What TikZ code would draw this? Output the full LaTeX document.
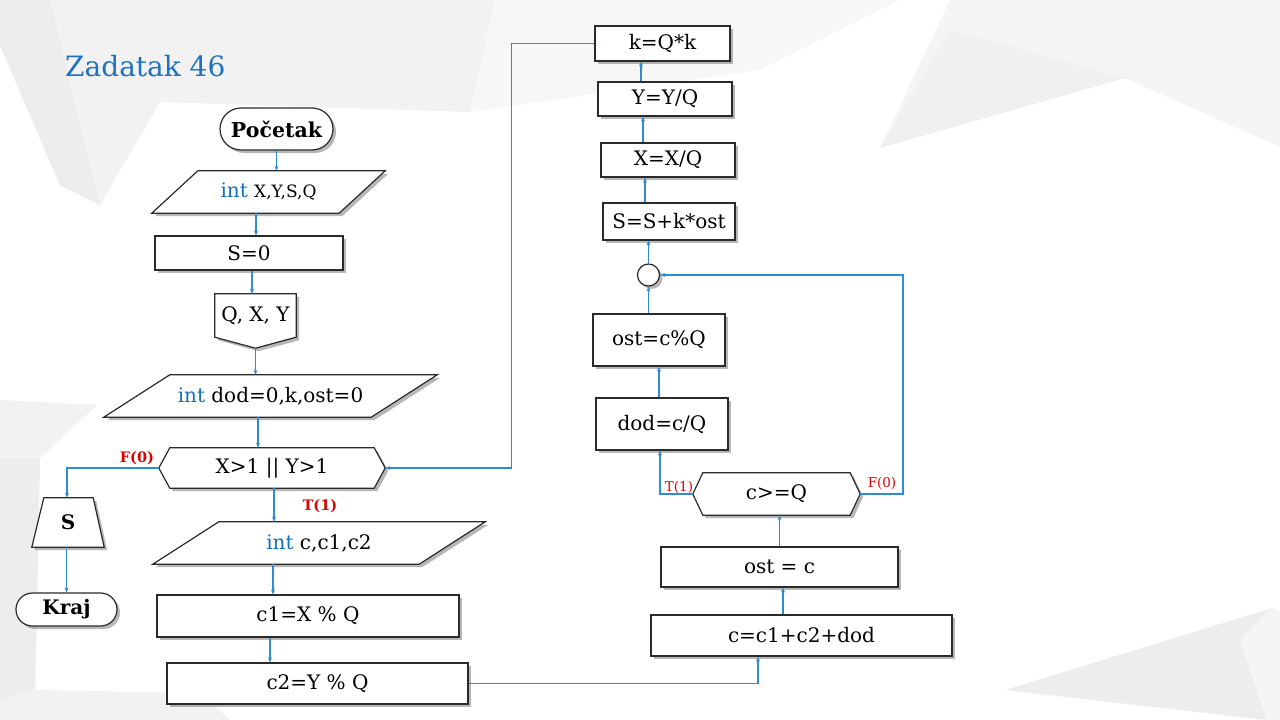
\documentclass[tikz,border=0pt]{standalone}
\usepackage{fontspec}
\setmainfont{DejaVu Serif}
\usetikzlibrary{shadows,arrows.meta,calc}
\pgfdeclarelayer{deco}
\pgfdeclarelayer{shapes}
\pgfsetlayers{deco,shapes,main}
\definecolor{connc}{HTML}{2E8BD6}
\definecolor{kw}{HTML}{1170C0}
\definecolor{titleblue}{HTML}{1F73BE}
\definecolor{lblred}{HTML}{E00000}
\definecolor{bord}{HTML}{2A2A2A}
\tikzset{
  shp/.style={draw=bord, line width=1.2pt, fill=white,
    drop shadow={shadow xshift=3pt, shadow yshift=-3pt, opacity=0.4, fill=black!70}},
  boxn/.style={shp, rectangle, inner sep=0pt, font=\fontsize{20}{23}\selectfont},
  ghost/.style={draw=none, rectangle, inner sep=0pt, font=\fontsize{20}{23}\selectfont},
  conn/.style={draw=connc, line width=1.6pt, -{Stealth[length=5pt,width=4pt]}},
  redb/.style={text=lblred, inner sep=0pt, font=\bfseries\fontsize{14.5}{17}\selectfont},
  redr/.style={text=lblred, inner sep=0pt, font=\fontsize{13.5}{16}\selectfont},
}
\begin{document}
\begin{tikzpicture}[x=1pt,y=-1pt]
\useasboundingbox (0,0) rectangle (1280,720);
% background decoration
\begin{pgfonlayer}{deco}
\fill[white] (0,0) rectangle (1280,720);
\fill[black!5] (0,0) -- (495,0) -- (470,112) -- (160,102) -- (100,205) -- (60,185) -- (0,45) -- cycle;
\fill[black!7] (0,45) -- (60,185) -- (100,205) -- (50,0) -- (0,0) -- cycle;
\fill[black!3] (495,0) -- (470,112) -- (760,70) -- (900,0) -- cycle;
\fill[black!4] (880,148) -- (1125,78) -- (1280,147) -- (1280,0) -- (950,0) -- cycle;
\fill[black!6] (880,148) -- (950,30) -- (1125,78) -- cycle;
\fill[black!5] (0,400) -- (97,405) -- (40,458) -- (35,690) -- (200,693) -- (230,720) -- (0,720) -- cycle;
\fill[black!7] (0,458) -- (40,458) -- (35,690) -- (0,700) -- cycle;
\fill[black!7] (1005,690) -- (1272,608) -- (1280,612) -- (1280,720) -- (1267,720) -- cycle;
\fill[black!4] (1272,608) -- (1280,612) -- (1280,720) -- (1267,720) -- (1240,640) -- cycle;
\end{pgfonlayer}

% title
\node[anchor=base west, inner sep=0pt, text=titleblue, font=\fontsize{28}{32}\selectfont] (title) at (65,76) {Zadatak 46};

% left column
\node[boxn, minimum width=113, minimum height=42, rounded corners=21pt, font=\bfseries\fontsize{20.5}{23}\selectfont] (start) at (276.5,129) {Početak};
\node[ghost, minimum width=233, minimum height=42] (inp1) at (268.5,192) {\textcolor{kw}{int} {\fontsize{17}{19}\selectfont X,Y,S,Q}};
\node[boxn, minimum width=188, minimum height=34] (s0) at (249,253) {S=0};
\node[ghost, minimum width=81, minimum height=43] (off) at (255.5,315.5) {Q, X, Y};
\coordinate (offtip) at ([yshift=-11pt]off.south);
\node[ghost, minimum width=333, minimum height=42] (inp2) at (270.5,396) {\textcolor{kw}{int} dod=0,k,ost=0};
\node[ghost, minimum width=226, minimum height=40] (hex1) at (272,468) {X>1 || Y>1};
\node[ghost, minimum width=332, minimum height=42] (inp3) at (319,543) {\textcolor{kw}{int} c,c1,c2};
\node[boxn, minimum width=302, minimum height=42] (c1) at (308,616) {c1=X \% Q};
\node[boxn, minimum width=301, minimum height=41] (c2) at (317.5,683.5) {c2=Y \% Q};
\node[ghost, minimum width=72, minimum height=49, font=\bfseries\fontsize{20}{23}\selectfont] (strap) at (68,522.5) {S};
\node[boxn, minimum width=101, minimum height=33, rounded corners=16.5pt, font=\bfseries\fontsize{20}{23}\selectfont] (kraj) at (66.5,609.5) {Kraj};

% right column
\node[boxn, minimum width=301, minimum height=41] (sum) at (801.5,635.5) {c=c1+c2+dod};
\node[boxn, minimum width=237, minimum height=40] (ostc) at (779.5,567) {ost = c};
\node[ghost, minimum width=167, minimum height=42] (hex2) at (776.5,494) {c>=Q};
\node[boxn, minimum width=132, minimum height=52] (dod) at (662,424) {dod=c/Q};
\node[boxn, minimum width=132, minimum height=52] (ostq) at (659,340) {ost=c\%Q};
\node[shp, circle, minimum size=22, inner sep=0pt] (circ) at (648.5,275) {};
\node[boxn, minimum width=132, minimum height=37] (ss) at (669,221.5) {S=S+k*ost};
\node[boxn, minimum width=134, minimum height=34] (xx) at (668,160) {X=X/Q};
\node[boxn, minimum width=134, minimum height=34] (yy) at (665,99) {Y=Y/Q};
\node[boxn, minimum width=135, minimum height=35] (kk) at (662.5,43.5) {k=Q*k};

% custom outlines
\begin{pgfonlayer}{shapes}
\path[shp] ([xshift=46pt]inp1.north west) -- (inp1.north east) -- ([xshift=-46pt]inp1.south east) -- (inp1.south west) -- cycle;
\path[shp] (off.north west) -- (off.north east) -- (off.south east) -- (offtip) -- (off.south west) -- cycle;
\path[shp] ([xshift=66pt]inp2.north west) -- (inp2.north east) -- ([xshift=-66pt]inp2.south east) -- (inp2.south west) -- cycle;
\path[shp] ([xshift=11pt]hex1.north west) -- ([xshift=-11pt]hex1.north east) -- (hex1.east) -- ([xshift=-11pt]hex1.south east) -- ([xshift=11pt]hex1.south west) -- (hex1.west) -- cycle;
\path[shp] ([xshift=66pt]inp3.north west) -- (inp3.north east) -- ([xshift=-66pt]inp3.south east) -- (inp3.south west) -- cycle;
\path[shp] ([xshift=12pt]strap.north west) -- ([xshift=-11pt]strap.north east) -- (strap.south east) -- (strap.south west) -- cycle;
\path[shp] ([xshift=10pt]hex2.north west) -- ([xshift=-10pt]hex2.north east) -- (hex2.east) -- ([xshift=-10pt]hex2.south east) -- ([xshift=10pt]hex2.south west) -- (hex2.west) -- cycle;
\end{pgfonlayer}

% labels
\node[redb] (f1) at (137,458) {F(0)};
\node[redb] (t1) at (320,506) {T(1)};
\node[redr] (t2) at (679,487) {T(1)};
\node[redr] (f2) at (882,483) {F(0)};

% connectors left
\draw[conn] (start.south) -- (start.south |- inp1.north);
\draw[conn] ([xshift=-12.5pt]inp1.south) -- ([xshift=-12.5pt]inp1.south |- s0.north);
\draw[conn] ([xshift=3pt]s0.south) -- ([xshift=3pt]s0.south |- off.north);
\draw[conn] (offtip) -- (offtip |- inp2.north);
\draw[conn] ([xshift=-12.5pt]inp2.south) -- ([xshift=-12.5pt]inp2.south |- hex1.north);
\draw[conn] ([xshift=2pt]hex1.south) -- ([xshift=2pt]hex1.south |- inp3.north);
\draw[conn] ([xshift=-46pt]inp3.south) -- ([xshift=-46pt]inp3.south |- c1.north);
\draw[conn] ([xshift=-38pt]c1.south) -- ([xshift=-38pt]c1.south |- c2.north);
\draw[conn] (hex1.west) -| ([xshift=-1pt]strap.north);
\draw[conn] (kraj.north |- strap.south) -- (kraj.north);

% connectors right
\draw[conn] (c2.east) -| ([xshift=-43.5pt]sum.south);
\draw[conn] ([xshift=-18.5pt]sum.north) -- ([xshift=-18.5pt]sum.north |- ostc.south);
\draw[conn] (ostc.north) -- (ostc.north |- hex2.south);
\draw[conn] (hex2.west) -| ([xshift=-2pt]dod.south);
\draw[conn] ([xshift=-3pt]dod.north) -- ([xshift=-3pt]dod.north |- ostq.south);
\draw[conn] (circ.south |- ostq.north) -- (circ.south);
\draw[conn] (hex2.east) -- ++(43,0) |- (circ.east);
\draw[conn] (circ.north) -- (circ.north |- ss.south);
\draw[conn] ([xshift=-24pt]ss.north) -- ([xshift=-24pt]ss.north |- xx.south);
\draw[conn] ([xshift=-25pt]xx.north) -- ([xshift=-25pt]xx.north |- yy.south);
\draw[conn] ([xshift=-24pt]yy.north) -- ([xshift=-24pt]yy.north |- kk.south);
\draw[conn] (kk.west) -- ++(-83,0) |- (hex1.east);
\end{tikzpicture}
\end{document}
